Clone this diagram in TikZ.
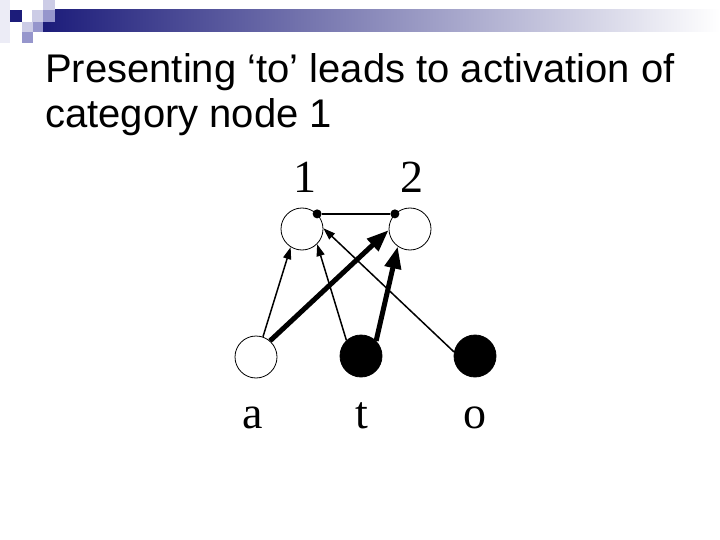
\documentclass[tikz,border=0pt]{standalone}
\usepackage{fontspec}
\setmainfont{Liberation Serif}
\newfontfamily\slidefont{Liberation Sans}
\usetikzlibrary{arrows.meta}
\definecolor{navy}{RGB}{28,28,122}
\definecolor{lavlight}{RGB}{204,204,230}
\definecolor{lavmid}{RGB}{150,150,204}
\definecolor{lavpale}{RGB}{236,236,246}

\begin{document}
\begin{tikzpicture}[x=1pt,y=-1pt,
  unit/.style={circle,draw,line width=0.8pt,minimum size=42pt,inner sep=0pt},
  on/.style={unit,fill=black},
  dot/.style={circle,fill=black,inner sep=0pt,minimum size=9pt},
  lbl/.style={font=\fontsize{46}{46}\selectfont,inner sep=0pt,anchor=base},
  headline/.style={font=\slidefont\fontsize{40}{46}\selectfont,inner sep=0pt,anchor=base west},
  weak/.style={line width=1.5pt,-{Triangle[length=12pt,width=8pt]}},
  strong/.style={line width=5pt,-{Triangle[length=22pt,width=16pt]}}]
       \useasboundingbox (0,0) rectangle (720,540);
       % slide header
       \fill[lavpale] (0,0) rectangle (10,43);
       \shade[left color=navy,right color=white] (43,10) rectangle (720,32);
       \fill[navy] (10,10) rectangle (22,22);
       \fill[lavlight] (32,10) rectangle (43,22);
       \fill[lavmid] (43,10) rectangle (55,22);
       \fill[lavlight] (43,0) rectangle (55,10);
       \fill[lavlight] (22,22) rectangle (33,32);
       \fill[lavmid] (33,22) rectangle (43,32);
       \fill[lavmid] (22,32) rectangle (33,43);
       \node[headline] (title1) at (45,83) {Presenting ‘to’ leads to activation of};
       \node[headline] (title2) at (45,128) {category node 1};
       % category nodes
       \node[unit] (n1) at (302,229) {};
       \node[unit] (n2) at (410,229) {};
       \node[lbl] (l1) at (305,193) {1};
       \node[lbl] (l2) at (412,193) {2};
       \node[dot] (d1) at (n1.45) {};
       \node[dot] (d2) at (n2.135) {};
       \draw[line width=1.5pt] (d1) -- (d2);
       % letter nodes
       \node[unit] (a) at (256,357) {};
       \node[on] (t) at (361,356) {};
       \node[on] (o) at (475,356) {};
       \node[lbl] (la) at (253,428) {a};
       \node[lbl] (lt) at (362,428) {t};
       \node[lbl] (lo) at (475,428) {o};
       % connections
       \draw[weak] (a.71) -- (n1.238);
       \draw[weak] (t.133) -- (n1.-45);
       \draw[weak] (o.169) -- (n1.2);
       \draw[strong] (a.49) -- (n2.183);
       \draw[strong] (t.45) -- (n2.235);
      \end{tikzpicture}
\end{document}
